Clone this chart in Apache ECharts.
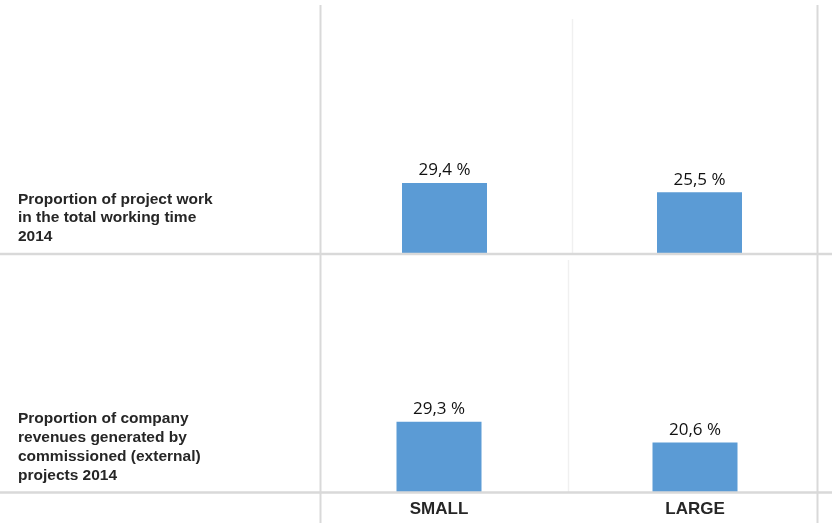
<!DOCTYPE html>
<html>
<head>
<meta charset="utf-8">
<script src="https://cdn.jsdelivr.net/npm/echarts@6/dist/echarts.min.js"></script>
<style>
  html, body { margin: 0; padding: 0; background: #ffffff; }
  #chart { width: 832px; height: 523px; }
</style>
</head>
<body>
<div id="chart"></div>
<script>
// Company size groups (columns)
const categories = ['SMALL', 'LARGE'];

// Row 1: share of project work in total working time, 2014 (%)
const projectWorkShare = [29.4, 25.5];
// Row 2: share of revenues from commissioned (external) projects, 2014 (%)
const externalRevenueShare = [29.3, 20.6];

// Row headings shown at the left of each panel
const rowLabels = [
  'Proportion of project work\nin the total working time\n2014',
  'Proportion of company\nrevenues generated by\ncommissioned (external)\nprojects 2014'
];

const BAR_COLOR = '#5b9bd5';
const RULE_COLOR = '#d9d9d9';

function fmt(v) {
  return v.toFixed(1).replace('.', ',') + ' %';
}

const valueLabel = {
  show: true,
  position: 'top',
  distance: 4,
  fontFamily: 'Open Sans',
  fontSize: 17,
  color: '#111111',
  formatter: p => fmt(p.value)
};

const chart = echarts.init(document.getElementById('chart'), null, { renderer: 'canvas' });

chart.setOption({
  animation: false,
  backgroundColor: '#ffffff',
  grid: [
    { left: 317, width: 510, top: 15, height: 238 },
    { left: 311, width: 512, top: 252, height: 240 }
  ],
  xAxis: [
    {
      type: 'category', gridIndex: 0, data: categories,
      axisLine: { show: false }, axisTick: { show: false }, axisLabel: { show: false },
      splitLine: { show: false }
    },
    {
      type: 'category', gridIndex: 1, data: categories,
      axisLine: { show: false }, axisTick: { show: false },
      axisLabel: {
        margin: 9, fontFamily: 'Liberation Sans', fontWeight: 'bold',
        fontSize: 17, color: '#262626'
      },
      splitLine: { show: false }
    }
  ],
  yAxis: [
    { type: 'value', gridIndex: 0, min: 0, max: 100, show: false },
    { type: 'value', gridIndex: 1, min: 0, max: 100, show: false }
  ],
  series: [
    {
      type: 'bar', xAxisIndex: 0, yAxisIndex: 0, data: projectWorkShare,
      barWidth: 85, itemStyle: { color: BAR_COLOR }, label: valueLabel
    },
    {
      type: 'bar', xAxisIndex: 1, yAxisIndex: 1, data: externalRevenueShare,
      barWidth: 85, itemStyle: { color: BAR_COLOR }, label: valueLabel
    }
  ],
  graphic: [
    // table rules
    { type: 'line', z: -1, shape: { x1: 320.5, y1: 5, x2: 320.5, y2: 523 }, style: { stroke: RULE_COLOR, lineWidth: 2 } },
    { type: 'line', z: -1, shape: { x1: 817.5, y1: 5, x2: 817.5, y2: 523 }, style: { stroke: RULE_COLOR, lineWidth: 2 } },
    { type: 'line', z: -1, shape: { x1: 572.5, y1: 19, x2: 572.5, y2: 253 }, style: { stroke: '#f0f0f0', lineWidth: 1.5 } },
    { type: 'line', z: -1, shape: { x1: 568.5, y1: 260, x2: 568.5, y2: 492 }, style: { stroke: '#f0f0f0', lineWidth: 1.5 } },
    { type: 'line', z: 5, shape: { x1: 0, y1: 254, x2: 832, y2: 254 }, style: { stroke: RULE_COLOR, lineWidth: 2.5 } },
    { type: 'line', z: 5, shape: { x1: 0, y1: 492.5, x2: 832, y2: 492.5 }, style: { stroke: RULE_COLOR, lineWidth: 2.5 } },
    // row headings
    {
      type: 'text', left: 18, top: 190,
      style: {
        text: rowLabels[0], fontFamily: 'Liberation Sans', fontWeight: 'bold',
        fontSize: 15.5, lineHeight: 18.5, fill: '#262626'
      }
    },
    {
      type: 'text', left: 18, top: 409,
      style: {
        text: rowLabels[1], fontFamily: 'Liberation Sans', fontWeight: 'bold',
        fontSize: 15.5, lineHeight: 19, fill: '#262626'
      }
    }
  ]
});
</script>
</body>
</html>
